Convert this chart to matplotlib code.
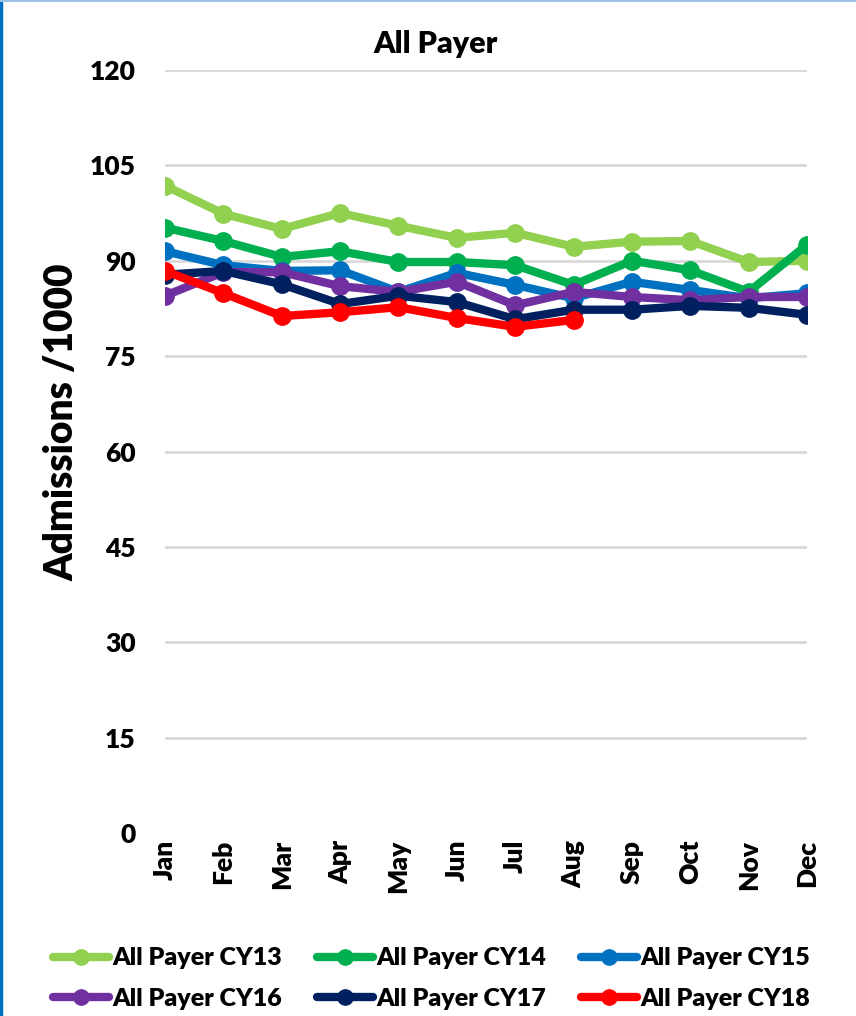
import matplotlib
matplotlib.use("Agg")
import matplotlib.pyplot as plt
from matplotlib.lines import Line2D

plt.rcParams['font.family'] = ['Lato', 'DejaVu Sans']
plt.rcParams['font.weight'] = 'heavy'
W = 'heavy'

months = ["Jan", "Feb", "Mar", "Apr", "May", "Jun",
          "Jul", "Aug", "Sep", "Oct", "Nov", "Dec"]

cy13 = [101.8, 97.4, 95.0, 97.5, 95.5, 93.6, 94.4, 92.2, 93.0, 93.1, 89.8, 90.0]
cy14 = [95.2, 93.1, 90.6, 91.5, 89.8, 89.8, 89.3, 86.2, 90.0, 88.5, 85.1, 92.5]
cy15 = [91.5, 89.3, 88.4, 88.5, 85.1, 88.1, 86.2, 84.1, 86.7, 85.4, 84.1, 84.9]
cy16 = [84.5, 88.2, 88.2, 86.0, 85.1, 86.7, 83.0, 85.1, 84.3, 83.8, 84.3, 84.3]
cy17 = [87.8, 88.4, 86.3, 83.2, 84.5, 83.5, 80.8, 82.3, 82.3, 82.9, 82.6, 81.5]
cy18 = [88.4, 84.9, 81.3, 81.9, 82.7, 81.0, 79.6, 80.7]

series = [
    ("All Payer CY13", cy13, "#92D050"),
    ("All Payer CY14", cy14, "#00B050"),
    ("All Payer CY15", cy15, "#0070C0"),
    ("All Payer CY16", cy16, "#7030A0"),
    ("All Payer CY17", cy17, "#002060"),
    ("All Payer CY18", cy18, "#FF0000"),
]

y_ticks = [0, 15, 30, 45, 60, 75, 90, 105, 120]

fig = plt.figure(figsize=(8.56, 10.16), dpi=100)
ax = fig.add_axes([165 / 856, 1 - 833 / 1016, 642 / 856, 763 / 1016])

handles = {}
for name, vals, color in series:
    ln, = ax.plot(range(len(vals)), vals, color=color, lw=6,
                  marker="o", markersize=12.5, solid_capstyle="round",
                  label=name, zorder=3)
    handles[name] = ln

ax.set_xlim(0, 11)
ax.set_ylim(0, 120)
ax.set_yticks(y_ticks)
ax.set_yticklabels([str(v) for v in y_ticks], fontsize=19, fontweight=W)
ax.set_xticks(range(12))
ax.set_xticklabels(months, rotation=90, fontsize=19, fontweight=W)
ax.tick_params(axis="both", length=0)
ax.tick_params(axis="y", pad=21)
ax.tick_params(axis="x", pad=5)

for v in y_ticks[1:]:
    ax.axhline(v, color="#D9D9D9", lw=2, zorder=1)

for s in ax.spines.values():
    s.set_visible(False)

fig.text(62 / 856, 1 - 422 / 1016, "Admissions /1000", rotation=90,
         ha="center", va="center", fontsize=28, fontweight=W)

fig.text(436 / 856, 1 - 44 / 1016, "All Payer", ha="center", va="center",
         fontsize=22, fontweight=W)

order = ["All Payer CY13", "All Payer CY16", "All Payer CY14",
         "All Payer CY17", "All Payer CY15", "All Payer CY18"]
leg_handles = [Line2D([], [], color=handles[n].get_color(), lw=6,
                      marker="o", markersize=11, solid_capstyle="round")
               for n in order]
fig.legend(leg_handles, order, loc="lower left", ncol=3,
           bbox_to_anchor=(38 / 856, -9 / 1016), frameon=False,
           prop={"weight": W, "size": 18},
           handlelength=2.25, handletextpad=0.12, columnspacing=1.4,
           labelspacing=0.75, borderaxespad=0.2)

# chart frame edges
fig.add_artist(Line2D([0.0015, 0.0015], [0, 1], transform=fig.transFigure,
                      color="#0070C0", lw=2.5))
fig.add_artist(Line2D([0, 1], [0.999, 0.999], transform=fig.transFigure,
                      color="#9DC3E6", lw=1.5))

fig.savefig("out.png", dpi=100)
